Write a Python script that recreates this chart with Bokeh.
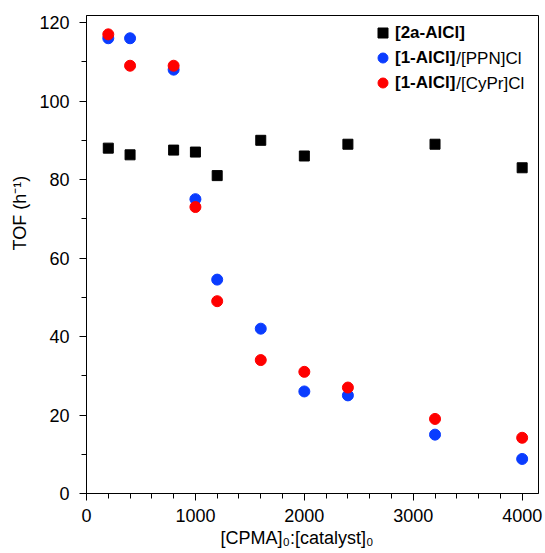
from bokeh.plotting import figure
from bokeh.models import (ColumnDataSource, Range1d, FixedTicker, Legend, LegendItem, Label, Title)
from bokeh.embed import file_html
from bokeh.resources import INLINE

# Data
ratio = [200, 400, 800, 1000, 1200, 1600, 2000, 2400, 3200, 4000]
tof_2a = [88, 86.3, 87.5, 87, 81, 90, 86, 89, 89, 83]
tof_ppn = [116, 116, 108, 75, 54.5, 42, 26, 25, 15, 8.8]
tof_cypr = [117, 109, 109, 73, 49, 34, 31, 27, 19, 14.2]

x_major = [0, 1000, 2000, 3000, 4000]
x_minor = [200, 400, 600, 800, 1200, 1400, 1600, 1800, 2200, 2400, 2600, 2800,
           3200, 3400, 3600, 3800]
y_major = [0, 20, 40, 60, 80, 100, 120]
y_minor = [10, 30, 50, 70, 90, 110]

series_labels_bold = ["[2a-AlCl]", "[1-AlCl]", "[1-AlCl]"]
series_labels_rest = ["", "/[PPN]Cl", "/[CyPr]Cl"]
x_title = "[CPMA]\u2080:[catalyst]\u2080"
y_title = "TOF (h\u207b\u00b9)"

FONT = "Liberation Sans"

src = ColumnDataSource(dict(x=ratio, a=tof_2a, b=tof_ppn, c=tof_cypr))

p = figure(width=545, height=553, output_backend="svg", toolbar_location=None,
           x_range=Range1d(0, 4150), y_range=Range1d(0, 121.8),
           min_border_left=86, min_border_right=7, min_border_top=15,
           min_border_bottom=60)
p.grid.visible = False
p.outline_line_color = "black"
p.outline_line_width = 1
p.background_fill_color = "white"

r_sq = p.scatter("x", "a", source=src, marker="square", size=10,
                 fill_color="black", line_color="black")
r_blue = p.scatter("x", "b", source=src, marker="circle", size=11,
                   fill_color="#0a3cff", line_color="#0a3cff")
r_red = p.scatter("x", "c", source=src, marker="circle", size=11,
                  fill_color="#ff0000", line_color="#ff0000")

for ax in (p.xaxis[0], p.yaxis[0]):
    ax.axis_line_color = "black"
    ax.axis_line_width = 1
    ax.major_tick_line_color = "black"
    ax.minor_tick_line_color = "black"
    ax.major_tick_in = 0
    ax.major_tick_out = 7
    ax.minor_tick_in = 0
    ax.minor_tick_out = 5
    ax.major_label_text_font = FONT
    ax.major_label_text_font_size = "18px"
    ax.major_label_text_color = "black"

p.xaxis[0].ticker = FixedTicker(ticks=x_major, minor_ticks=x_minor)
p.yaxis[0].ticker = FixedTicker(ticks=y_major, minor_ticks=y_minor)
p.xaxis[0].major_label_standoff = 8
p.yaxis[0].major_label_standoff = 10

# Axis titles
p.add_layout(Title(text=y_title, align="left", offset=243, text_font=FONT,
                   text_font_size="18px", text_font_style="normal",
                   text_color="black", standoff=14), "left")
p.add_layout(Title(text=x_title, align="left", offset=134, text_font=FONT,
                   text_font_size="18px", text_font_style="normal",
                   text_color="black", standoff=2), "below")

legend = Legend(items=[LegendItem(label=series_labels_bold[0], renderers=[r_sq]),
                       LegendItem(label=series_labels_bold[1], renderers=[r_blue]),
                       LegendItem(label=series_labels_bold[2], renderers=[r_red])],
                location=(284, 398), padding=0, margin=0, spacing=0,
                glyph_width=25, glyph_height=25, label_height=25, label_standoff=-4,
                label_text_font=FONT, label_text_font_size="17px",
                label_text_font_style="bold", label_text_color="black",
                border_line_alpha=0, background_fill_alpha=0)
p.add_layout(legend)

for i, yv in [(1, 110.9), (2, 104.5)]:
    p.add_layout(Label(x=3395, y=yv, text=series_labels_rest[i],
                       text_align="left", text_baseline="middle",
                       text_font=FONT, text_font_size="17px", text_color="black"))

open("out.html", "w").write(file_html(p, INLINE))
